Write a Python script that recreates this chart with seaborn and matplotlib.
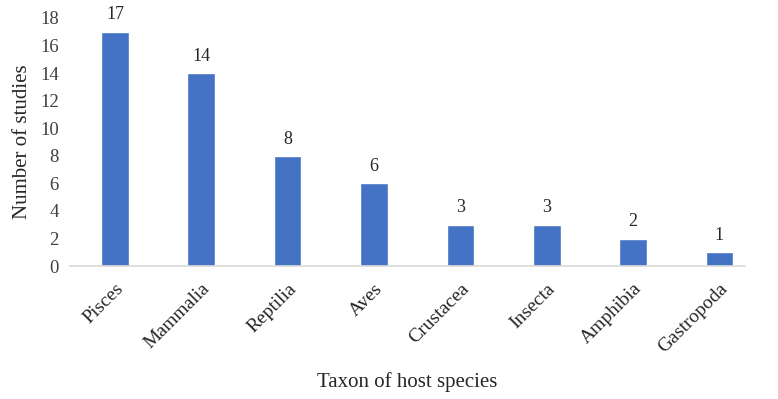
import matplotlib
matplotlib.use("Agg")
import matplotlib.pyplot as plt
import seaborn as sns
import pandas as pd

categories = ["Pisces", "Mammalia", "Reptilia", "Aves", "Crustacea", "Insecta", "Amphibia", "Gastropoda"]
values = [17, 14, 8, 6, 3, 3, 2, 1]
yticks = [0, 2, 4, 6, 8, 10, 12, 14, 16, 18]

sns.set_style("white")
plt.rcParams['font.family'] = ['Liberation Serif', 'DejaVu Serif']

df = pd.DataFrame({"taxon": categories, "n": values})
fig = plt.figure(figsize=(7.78, 3.99), dpi=100)
ax = fig.add_axes([0.09, 0.333, 0.868, 0.622])
sns.barplot(data=df, x="taxon", y="n", color="#4472C4", saturation=1, width=0.32, ax=ax)

ax.set_ylim(0, 18)
ax.set_yticks(yticks)
ax.set_yticklabels([str(t) for t in yticks], fontsize=13.5, color="#404040")
for s in ["top", "right", "left"]:
    ax.spines[s].set_visible(False)
ax.spines["bottom"].set_color("#D9D9D9")
ax.spines["bottom"].set_linewidth(1.2)
ax.tick_params(axis="y", length=0, pad=8)
ax.tick_params(axis="x", length=0, pad=10)
ax.set_xticks(range(len(categories)))
ax.set_xticklabels(categories, rotation=45, ha="right", rotation_mode="anchor", fontsize=14, color="#262626")
ax.set_xlim(-0.52, len(categories) - 1 + 0.3)

for i, v in enumerate(values):
    ax.text(i, v + 0.6, str(v), ha="center", va="bottom", fontsize=13, color="#262626")

ax.set_xlabel("Taxon of host species", fontsize=15, labelpad=12, color="#262626")
ax.set_ylabel("Number of studies", fontsize=15, labelpad=6, color="#262626")

fig.savefig("out.png", dpi=100)
